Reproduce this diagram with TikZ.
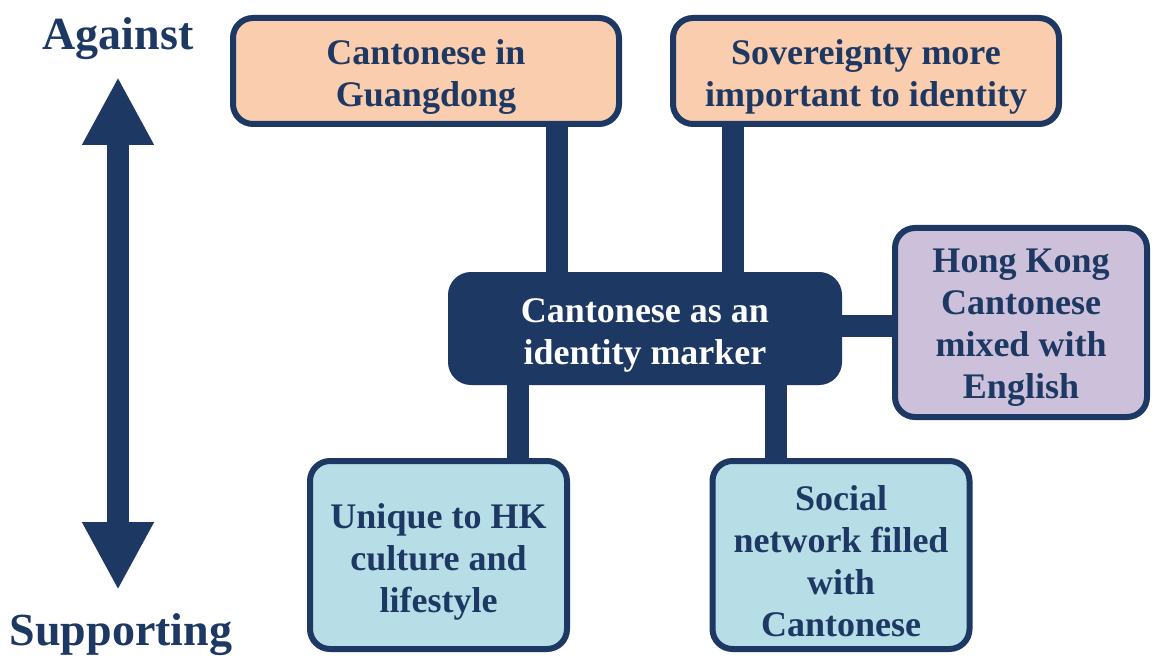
\documentclass[tikz,border=0pt]{standalone}
\usepackage{fontspec}
\setmainfont{Liberation Serif}
\usetikzlibrary{arrows.meta}
\pgfdeclarelayer{background}
\pgfsetlayers{background,main}
\definecolor{navy}{HTML}{1D3862}
\definecolor{peach}{HTML}{F9CDAE}
\definecolor{lilac}{HTML}{CCC0DA}
\definecolor{lblue}{HTML}{B7DDE7}
\tikzset{
  box/.style={draw=navy, line width=6pt, rounded corners=20pt, inner sep=0pt},
  boxtext/.style={align=center, text=navy, font=\fontsize{36}{42}\selectfont\bfseries, inner sep=0pt},
  bar/.style={draw=navy, line width=22pt},
  axislabel/.style={text=navy, font=\fontsize{46}{50}\selectfont\bfseries, inner sep=0pt}
}
\begin{document}
\begin{tikzpicture}[x=1pt,y=-1pt]
\useasboundingbox (0,0) rectangle (1155,660);
% boxes
\node[box, fill=peach, minimum width=386pt, minimum height=106pt] (b1) at (426,71) {};
\node[box, fill=peach, minimum width=386pt, minimum height=106pt] (b2) at (866,71) {};
\node[box, fill=navy, minimum width=388pt, minimum height=107pt] (c) at (645,328.5) {};
\node[box, fill=lilac, minimum width=252pt, minimum height=189pt] (hk) at (1021,322.5) {};
\node[box, fill=lblue, minimum width=257pt, minimum height=188pt] (u) at (438.5,555) {};
\node[box, fill=lblue, minimum width=257pt, minimum height=188pt] (s) at (841,555) {};
% texts
\node[boxtext] (b1t) at (426,77) {Cantonese in\\Guangdong};
\node[boxtext] (b2t) at (866,77) {Sovereignty more\\important to identity};
\node[boxtext, text=white] (ct) at (645,335) {Cantonese as an\\identity marker};
\node[boxtext] (hkt) at (1021,328) {Hong Kong\\Cantonese\\mixed with\\English};
\node[boxtext] (ut) at (438.5,562) {Unique to HK\\culture and\\lifestyle};
\node[boxtext] (st) at (841,561) {Social\\network filled\\with\\Cantonese};
% connectors
\begin{pgfonlayer}{background}
\draw[bar] (b1.south -| 557,0) -- (c.north -| 557,0);
\draw[bar] (b2.south -| 733,0) -- (c.north -| 733,0);
\draw[bar] (c.east |- 0,326) -- (hk.west |- 0,326);
\draw[bar] (c.south -| 518,0) -- (u.north -| 518,0);
\draw[bar] (c.south -| 776,0) -- (s.north -| 776,0);
\end{pgfonlayer}
% axis
\node[axislabel] (against) at (118,39) {Against};
\node[axislabel] (supp) at (121,635) {Supporting};
\coordinate (top) at (118,77);
\coordinate (bot) at (118,590);
\draw[line width=22pt, navy, {Triangle[width=67pt,length=68pt]}-{Triangle[width=67pt,length=68pt]}] (top) -- (bot);
\end{tikzpicture}
\end{document}
